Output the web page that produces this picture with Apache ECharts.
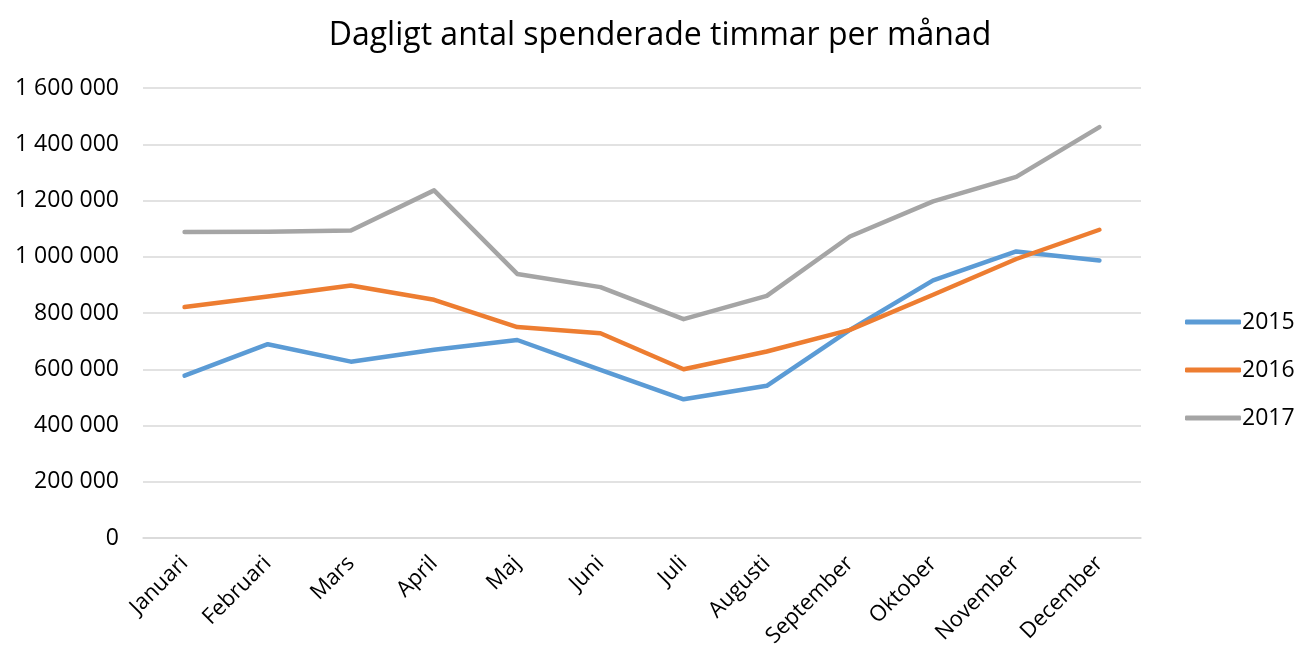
<!DOCTYPE html>
<html>
<head>
    <meta charset="utf-8">
    <script src="https://cdn.jsdelivr.net/npm/echarts@6/dist/echarts.min.js"></script>
    <style>
        html, body { margin: 0; padding: 0; background: #fff; }
        #container { width: 1295px; height: 654px; }
    </style>
</head>
<body>
<div id="container"></div>
<script>
    // månader på x-axeln
    let months = ['Januari', 'Februari', 'Mars', 'April', 'Maj', 'Juni',
        'Juli', 'Augusti', 'September', 'Oktober', 'November', 'December'];
    let years = ['2015', '2016', '2017'];
    let hours2015 = [577000, 689000, 627000, 669000, 704000, 598000, 493000, 541000, 740000, 916000, 1019000, 987000];
    let hours2016 = [821000, 859000, 898000, 847000, 750000, 728000, 600000, 663000, 740000, 865000, 992000, 1096000];
    let hours2017 = [1088000, 1089000, 1093000, 1236000, 939000, 892000, 778000, 861000, 1072000, 1197000, 1284000, 1461000];
    let colors = ['#5B9BD5', '#ED7D31', '#A5A5A5'];

    let font = 'Open Sans';
    let dom = document.getElementById("container");
    let myChart = echarts.init(dom);

    function fmt(v) {
        // mellanslag som tusentalsavgränsare
        return String(v).replace(/\B(?=(\d{3})+(?!\d))/g, ' ');
    }

    function line(name, data, color) {
        return {
            name: name,
            type: 'line',
            data: data,
            symbol: 'none',
            lineStyle: { width: 4.5, color: color, cap: 'round', join: 'round' },
            itemStyle: { color: color }
        };
    }

    let option = {
        animation: false,
        title: {
            text: 'Dagligt antal spenderade timmar per månad',
            left: 655,
            textAlign: 'center',
            top: 15,
            textStyle: { fontFamily: font, fontSize: 32, fontWeight: 'normal', color: '#000' }
        },
        grid: {
            left: 143,
            right: 154,
            top: 88,
            bottom: 116
        },
        legend: {
            orient: 'vertical',
            left: 1180,
            top: 305,
            itemWidth: 56,
            itemHeight: 5,
            itemGap: 24,
            icon: 'roundRect',
            textStyle: { fontFamily: font, fontSize: 23, lineHeight: 24, color: '#000', padding: [0, 0, 0, -4] },
            data: years
        },
        xAxis: {
            type: 'category',
            data: months,
            boundaryGap: true,
            axisLine: { show: true, lineStyle: { color: '#d9d9d9', width: 1.5 } },
            axisTick: { show: false },
            axisLabel: {
                rotate: 45,
                interval: 0,
                margin: 22,
                fontFamily: font,
                fontSize: 22,
                color: '#000'
            }
        },
        yAxis: {
            type: 'value',
            min: 0,
            max: 1600000,
            interval: 200000,
            axisLine: { show: false },
            axisTick: { show: false },
            splitLine: { lineStyle: { color: '#d9d9d9', width: 1.5 } },
            axisLabel: {
                margin: 24,
                fontFamily: font,
                fontSize: 23,
                color: '#000',
                formatter: fmt
            }
        },
        series: [
            line(years[0], hours2015, colors[0]),
            line(years[1], hours2016, colors[1]),
            line(years[2], hours2017, colors[2])
        ]
    };

    if (option && typeof option === 'object') {
        myChart.setOption(option);
    }
</script>
</body>
</html>
